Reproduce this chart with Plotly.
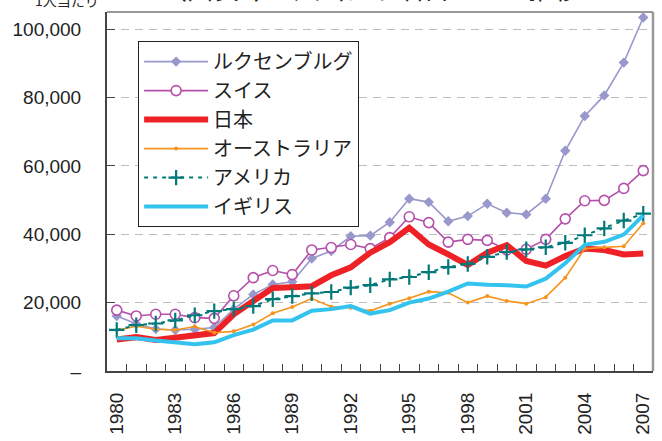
import plotly.graph_objects as go

years = [str(y) for y in range(1980, 2008)]

luxembourg = [16100, 13800, 12300, 12000, 12200, 12700, 18100, 22400, 25300, 26100,
              32900, 35100, 39400, 39600, 43500, 50400, 49400, 43800, 45300, 48900,
              46300, 45800, 50400, 64400, 74600, 80600, 90200, 103400]
switzerland = [17800, 16100, 16600, 16600, 15600, 15400, 22000, 27300, 29400, 28200,
               35400, 36100, 37000, 35800, 39000, 45100, 43400, 37700, 38500, 38200,
               35400, 35600, 38500, 44500, 49800, 49900, 53400, 58600]
japan = [9200, 9900, 9100, 9800, 10400, 11100, 16600, 20200, 24300, 24500,
         24800, 28000, 30300, 34600, 37700, 41900, 37000, 34100, 31000, 34600,
         36800, 32200, 30800, 33600, 35800, 35400, 34100, 34400]
australia = [11900, 13100, 12200, 12000, 13000, 11200, 11600, 13600, 16900, 18700,
             21200, 18800, 18500, 17600, 19700, 21300, 23200, 22900, 20000, 21900,
             20500, 19700, 21600, 27300, 35800, 36200, 36500, 43200]
usa = [12000, 13400, 13900, 14800, 16300, 17500, 18100, 19000, 21000, 21900,
       22700, 23100, 24400, 25100, 26800, 27500, 28900, 30400, 31300, 33400,
       34800, 35600, 36200, 37500, 39700, 41700, 44000, 46000]
uk = [9600, 9600, 8900, 8400, 7800, 8400, 10500, 12100, 14800, 14800,
      17600, 18100, 19000, 16800, 17800, 20000, 21200, 23200, 25600, 25200,
      25100, 24700, 27000, 31500, 36900, 37800, 39900, 45500]

y_tickvals = [0, 20000, 40000, 60000, 80000, 100000]
y_ticktext = ["–", "20,000", "40,000", "60,000", "80,000", "100,000"]
x_ticktext = [y if (int(y) - 1980) % 3 == 0 else "" for y in years]

JP = "Noto Sans CJK JP"
NUM = "Liberation Sans, Noto Sans CJK JP"

fig = go.Figure()
fig.add_trace(go.Scatter(x=years, y=luxembourg, name="ルクセンブルグ", mode="lines+markers",
                         line=dict(color="#9898CC", width=1.6),
                         marker=dict(symbol="diamond", size=8, color="#9898CC")))
fig.add_trace(go.Scatter(x=years, y=switzerland, name="スイス", mode="lines+markers",
                         line=dict(color="#B550AA", width=1.6),
                         marker=dict(symbol="circle", size=10, color="white",
                                     line=dict(color="#B550AA", width=1.6))))
fig.add_trace(go.Scatter(x=years, y=japan, name="日本", mode="lines",
                         line=dict(color="#EE2226", width=6)))
fig.add_trace(go.Scatter(x=years, y=australia, name="オーストラリア", mode="lines+markers",
                         line=dict(color="#F7941D", width=1.6),
                         marker=dict(symbol="circle", size=4, color="#F7941D")))
fig.add_trace(go.Scatter(x=years, y=usa, name="アメリカ", mode="lines+markers",
                         line=dict(color="#007A78", width=2, dash="4px,5px"),
                         marker=dict(symbol="cross-thin", size=11,
                                     line=dict(color="#007A78", width=2.2))))
fig.add_trace(go.Scatter(x=years, y=uk, name="イギリス", mode="lines",
                         line=dict(color="#33C3EE", width=4)))

fig.update_layout(
    width=662, height=441,
    margin=dict(l=107, r=9, t=12, b=70, autoexpand=False),
    paper_bgcolor="white", plot_bgcolor="white",
    font=dict(family=NUM, color="#222222"),
    showlegend=True,
    legend=dict(x=0.057, y=0.919, xanchor="left", yanchor="top",
                bgcolor="white", bordercolor="#222222", borderwidth=1,
                font=dict(family=JP, size=20, color="#222222"),
                itemwidth=64, tracegroupgap=0),
    xaxis=dict(type="category", tickvals=years, ticktext=x_ticktext,
               range=[-0.5, len(years) - 0.5],
               tickson="boundaries", ticks="inside", ticklen=7, tickcolor="#444",
               tickangle=-90, tickfont=dict(family=NUM, size=19, color="#222"),
               showline=True, linecolor="#444", linewidth=2, mirror=False,
               showgrid=False, ticklabelstandoff=12, automargin=False),
    yaxis=dict(range=[0, 105000], tickvals=y_tickvals, ticktext=y_ticktext,
               ticks="inside", ticklen=8, tickcolor="#444",
               tickfont=dict(family=NUM, size=19, color="#222"),
               showline=True, linecolor="#444", linewidth=2,
               showgrid=True, gridcolor="#BDBDBD", griddash="8px,6px", gridwidth=1,
               zeroline=False, ticklabelstandoff=20, automargin=False),
)

# gray frame (top and right)
fig.add_shape(type="line", xref="paper", yref="paper", x0=0, x1=1, y0=1, y1=1,
              line=dict(color="#999999", width=2))
fig.add_shape(type="line", xref="paper", yref="paper", x0=1, x1=1, y0=0, y1=1,
              line=dict(color="#999999", width=2.5))

fig.add_annotation(text="（図表2）1人当たり名目GDPの推移", xref="paper", yref="paper",
                   x=0.095, y=1.0, yshift=4, xanchor="left", yanchor="bottom",
                   showarrow=False, font=dict(family=JP, size=26, color="#222"))
fig.add_annotation(text="1人当たり", xref="paper", yref="paper",
                   x=0, y=1.0, xshift=-6, yshift=0, xanchor="right", yanchor="bottom",
                   showarrow=False, font=dict(family=JP, size=14, color="#222"))

fig.write_html("out.html", config={"displayModeBar": False},
               post_script="document.body.style.margin='0px';")
